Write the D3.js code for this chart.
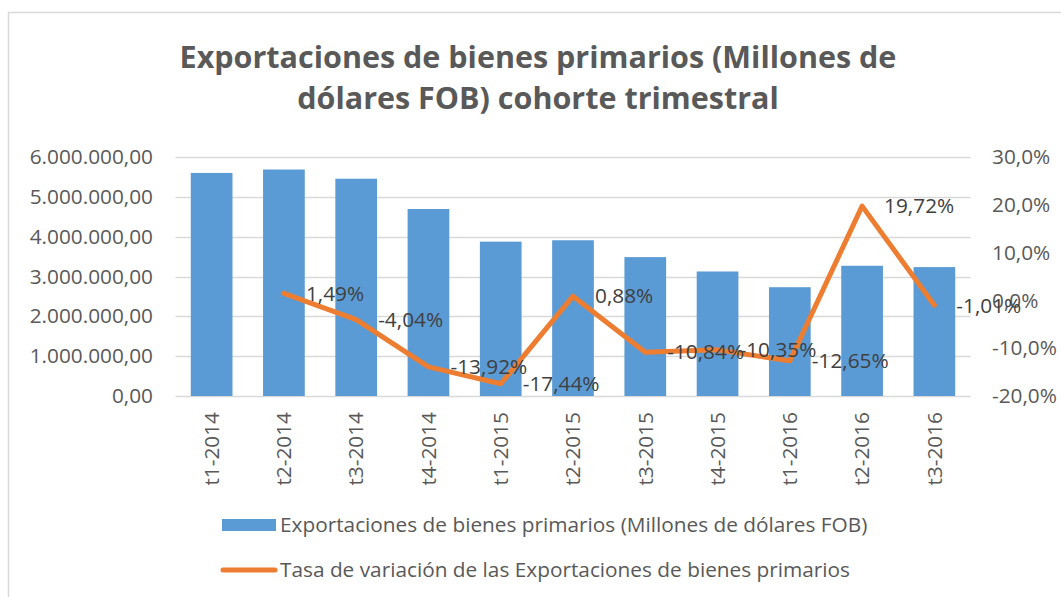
<!DOCTYPE html>
<html>
<head>
<meta charset="utf-8">
<script src="https://cdn.jsdelivr.net/npm/d3@7"></script>
<style>
    html, body { margin: 0; padding: 0; background: #fff; }
    svg { display: block; }
</style>
</head>
<body>
<div id="plot"></div>
<script>
var categories = ["t1-2014", "t2-2014", "t3-2014", "t4-2014", "t1-2015", "t2-2015",
                  "t3-2015", "t4-2015", "t1-2016", "t2-2016", "t3-2016"];
var exports_values = [5600000, 5685000, 5455000, 4695000, 3875000, 3910000,
                      3487000, 3126000, 2731000, 3269000, 3236000];
// first quarter has no rate
var rate_values = [null, 1.49, -4.04, -13.92, -17.44, 0.88,
                   -10.84, -10.35, -12.65, 19.72, -1.01];
var left_ticks = [0, 1000000, 2000000, 3000000, 4000000, 5000000, 6000000];
var right_ticks = [-20, -10, 0, 10, 20, 30];
var title_lines = ["Exportaciones de bienes primarios (Millones de",
                   "dólares FOB) cohorte trimestral"];
var bar_name = "Exportaciones de bienes primarios (Millones de dólares FOB)";
var line_name = "Tasa de variación de las Exportaciones de bienes primarios";

var W = 1061, H = 597;
var font = "'Open Sans', Lato, sans-serif";
var fs = 20.8;
var grey = "#595959", grid = "#D9D9D9";
var blue = "#5B9BD5", orange = "#ED7D31";
// plot area (the name "top" clashes with window.top)
var plot_left = 175.5, plot_right = 970.5, plot_top = 157, plot_bottom = 396;

// Spanish number style, plain hyphen as minus sign
var locale = d3.formatLocale({
    decimal: ",", thousands: ".", grouping: [3], currency: ["", ""], minus: "-"
});
var fmt_left = locale.format(",.2f");
var fmt_right = function(v) { return locale.format(".1f")(v) + "%"; };
var fmt_label = function(v) { return locale.format(".2f")(v) + "%"; };

var svg = d3.select("div#plot")
    .append("svg")
        .attr("width", W)
        .attr("height", H)
        .attr("viewBox", "0 0 " + W + " " + H)
        .style("font-family", font);

// chart frame (only left and top edges visible)
svg.append("path")
    .attr("d", "M8.5,597 V12.5 H1061")
    .attr("fill", "none")
    .attr("stroke", grid)
    .attr("stroke-width", 1.5);

// title
svg.append("text")
    .attr("text-anchor", "middle")
    .attr("fill", grey)
    .attr("font-weight", "bold")
    .attr("font-size", 30.5)
    .selectAll("tspan")
    .data(title_lines)
    .join("tspan")
        .attr("x", 538)
        .attr("y", function(d, i) { return 68 + i * 41; })
        .text(function(d) { return d; });

var x_scale = d3.scaleBand()
    .domain(categories)
    .range([plot_left, plot_right])
    .paddingInner(0.423)
    .paddingOuter(0.2115);

var y_scale = d3.scaleLinear()
    .domain([0, 6000000])
    .range([plot_bottom, plot_top]);

var y2_scale = d3.scaleLinear()
    .domain([-20, 30])
    .range([plot_bottom, plot_top]);

// gridlines
svg.append("g")
    .selectAll("line")
    .data(left_ticks)
    .join("line")
        .attr("x1", plot_left)
        .attr("x2", plot_right)
        .attr("y1", function(d) { return Math.round(y_scale(d)) + 0.5; })
        .attr("y2", function(d) { return Math.round(y_scale(d)) + 0.5; })
        .attr("stroke", grid)
        .attr("stroke-width", 1.3);

// left axis
var y_axis = d3.axisLeft(y_scale)
    .tickValues(left_ticks)
    .tickFormat(fmt_left)
    .tickSize(0)
    .tickPadding(0);
svg.append("g")
    .attr("transform", "translate(153, 0)")
    .call(y_axis)
    .call(function(g) { g.select(".domain").remove(); })
    .selectAll("text")
        .attr("fill", grey)
        .attr("font-size", fs)
        .attr("font-family", font);

// right axis
var y2_axis = d3.axisRight(y2_scale)
    .tickValues(right_ticks)
    .tickFormat(fmt_right)
    .tickSize(0)
    .tickPadding(0);
svg.append("g")
    .attr("transform", "translate(992, 0)")
    .call(y2_axis)
    .call(function(g) { g.select(".domain").remove(); })
    .selectAll("text")
        .attr("fill", grey)
        .attr("font-size", fs)
        .attr("font-family", font);

// bars
svg.append("g")
    .selectAll("rect")
    .data(exports_values)
    .join("rect")
        .attr("x", function(d, i) { return x_scale(categories[i]); })
        .attr("y", function(d) { return y_scale(d); })
        .attr("width", x_scale.bandwidth())
        .attr("height", function(d) { return plot_bottom - y_scale(d); })
        .attr("fill", blue);

// bottom axis (category labels rotated)
var x_axis = d3.axisBottom(x_scale).tickSize(0).tickPadding(0);
svg.append("g")
    .attr("transform", "translate(0, " + plot_bottom + ")")
    .call(x_axis)
    .call(function(g) { g.select(".domain").remove(); })
    .selectAll("text")
        .attr("fill", grey)
        .attr("font-size", fs)
        .attr("font-family", font)
        .attr("text-anchor", "end")
        .attr("dy", "0.35em")
        .attr("transform", "translate(0, 16) rotate(-90)")
        .attr("x", 0)
        .attr("y", 0);

// rate line
var rate_points = rate_values
    .map(function(v, i) { return { cat: categories[i], v: v }; })
    .filter(function(d) { return d.v !== null; });

var line = d3.line()
    .x(function(d) { return x_scale(d.cat) + x_scale.bandwidth() / 2; })
    .y(function(d) { return y2_scale(d.v); });

svg.append("path")
    .datum(rate_points)
    .attr("d", line)
    .attr("fill", "none")
    .attr("stroke", orange)
    .attr("stroke-width", 5)
    .attr("stroke-linejoin", "round")
    .attr("stroke-linecap", "round");

// data labels, right of each point
svg.append("g")
    .selectAll("text")
    .data(rate_points)
    .join("text")
        .attr("x", function(d) { return x_scale(d.cat) + x_scale.bandwidth() / 2 + 22; })
        .attr("y", function(d) { return y2_scale(d.v); })
        .attr("dy", "0.35em")
        .attr("fill", "#404040")
        .attr("font-size", fs)
        .text(function(d) { return fmt_label(d.v); });

// legend
var legend = svg.append("g").attr("font-size", fs).attr("fill", grey);
legend.append("rect")
    .attr("x", 222).attr("y", 519).attr("width", 54).attr("height", 12)
    .attr("fill", blue);
legend.append("text")
    .attr("x", 280).attr("y", 525).attr("dy", "0.35em")
    .text(bar_name);
legend.append("line")
    .attr("x1", 223).attr("x2", 275).attr("y1", 570).attr("y2", 570)
    .attr("stroke", orange).attr("stroke-width", 5).attr("stroke-linecap", "round");
legend.append("text")
    .attr("x", 280).attr("y", 570).attr("dy", "0.35em")
    .text(line_name);
</script>
</body>
</html>
